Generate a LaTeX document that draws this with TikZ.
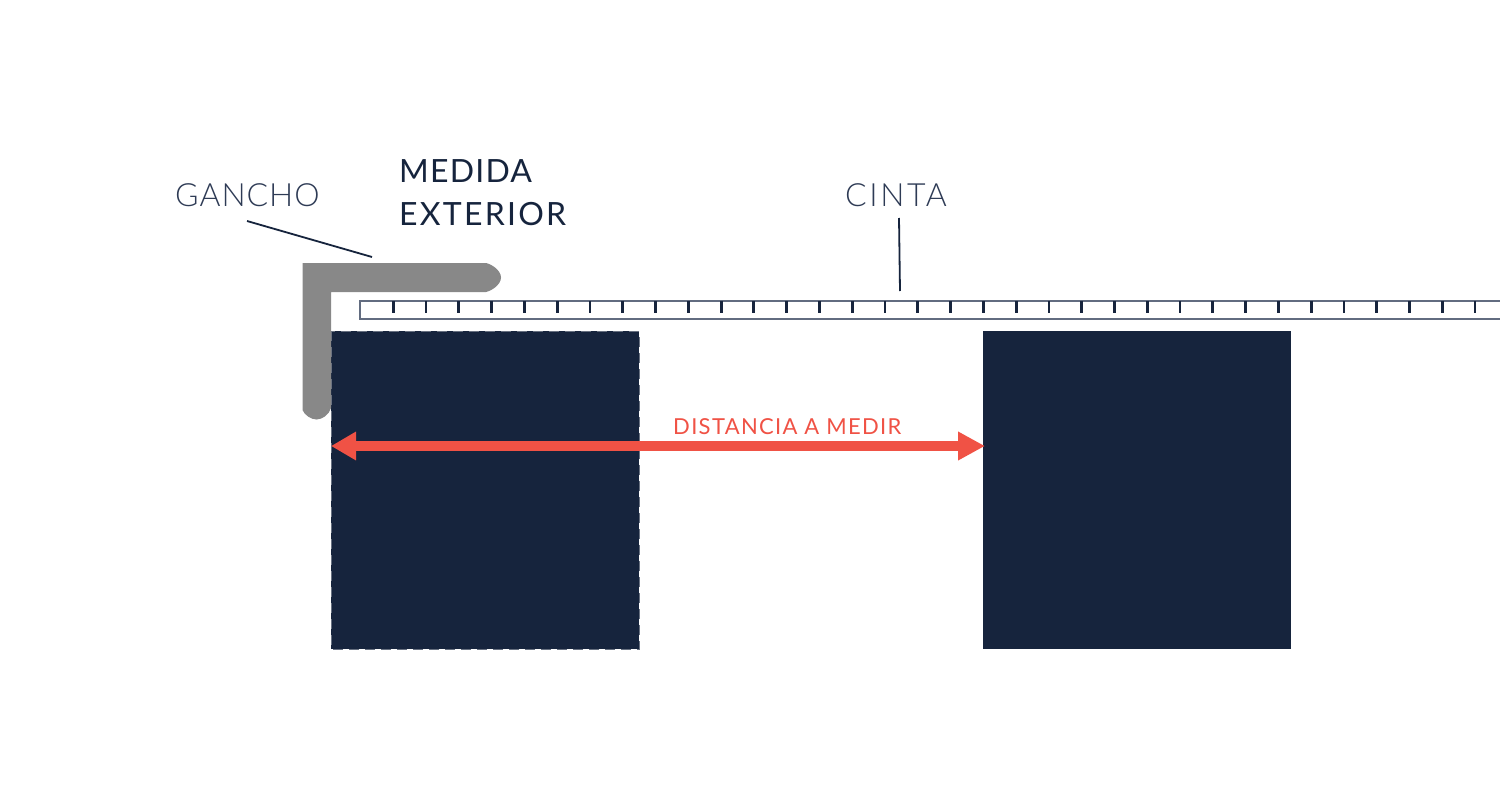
\documentclass[tikz,border=0pt]{standalone}
\usepackage{fontspec}
\setmainfont{Lato}
\newfontfamily\lightfont{Lato Light}
\usetikzlibrary{arrows.meta}
\newcommand{\spaced}[2]{{\addfontfeature{LetterSpace=#1}#2}}
\definecolor{navy}{HTML}{16243D}
\definecolor{slate}{HTML}{2E3B55}
\definecolor{hookgrey}{HTML}{888888}
\definecolor{redarrow}{HTML}{F05245}
\definecolor{rulerline}{HTML}{626C80}
\tikzset{
  block/.style={fill=navy,draw=none,minimum width=308pt,minimum height=318pt,inner sep=0pt,outer sep=0pt,anchor=north west},
  lightlabel/.style={text=slate,inner sep=0pt,font=\lightfont\fontsize{32}{38}\selectfont,anchor=west},
  boldlabel/.style={text=navy,inner sep=0pt,font=\fontsize{32}{43}\selectfont,align=left,anchor=north west},
  redlabel/.style={text=redarrow,inner sep=0pt,font=\fontsize{22}{26}\selectfont,anchor=west},
  leader/.style={draw=navy,line width=1.8pt},
  tick/.style={draw=navy,line width=2.8pt},
  measure/.style={draw=redarrow,line width=10pt,{Triangle[length=25pt,width=27pt]}-{Triangle[length=27pt,width=27pt]}}
}
\begin{document}
\begin{tikzpicture}[x=1pt,y=-1pt]
\useasboundingbox (0,0) rectangle (1500,800);
\fill[white] (0,0) rectangle (1500,800);
% blocks
\node[block] (left) at (331,331) {};
\node[block] (right) at (983,331) {};
\draw[white!35!navy,line width=0.6pt,dash pattern=on 10pt off 6pt] (left.north west) rectangle (left.south east);
% hook
\fill[hookgrey] (302.5,263) -- (486,263) .. controls (491,264) and (501,270) .. (501,277.5)
  .. controls (501,285) and (491,291) .. (486,292) -- (331,292) -- (331,408)
  .. controls (329,415) and (322,419.5) .. (316.5,419.5) .. controls (311,419.5) and (304.5,415) .. (302.5,410) -- cycle;
% ruler
\draw[rulerline,line width=2pt] (1500,301) -- (359.5,301) -- (359.5,319) -- (1500,319);
\foreach \i in {0,...,33} \draw[tick] ({393.3+\i*32.78},301) -- ++(0,12);
% labels
\node[lightlabel] (gancho) at (175,195.5) {\spaced{3}{GANCHO}};
\node[lightlabel] (cinta) at (845,195.5) {\spaced{8}{CINTA}};
\node[boldlabel] (medida) at (399,159) {\spaced{3.75}{MEDIDA}\\\spaced{7}{EXTERIOR}};
\node[redlabel] (dist) at (673,426.5) {\spaced{6}{DISTANCIA A MEDIR}};
% connectors
\coordinate (hooktop) at (372,257);
\coordinate (rulertop) at (900,291);
\coordinate (ganchofoot) at (247,221);
\coordinate (cintafoot) at (899,218);
\draw[leader] (ganchofoot) -- (hooktop);
\draw[leader] (cintafoot) -- (rulertop);
% arrow
\coordinate (aL) at (331,446);
\coordinate (aR) at (985,446);
\draw[measure] (aL) -- (aR);
\end{tikzpicture}
\end{document}
